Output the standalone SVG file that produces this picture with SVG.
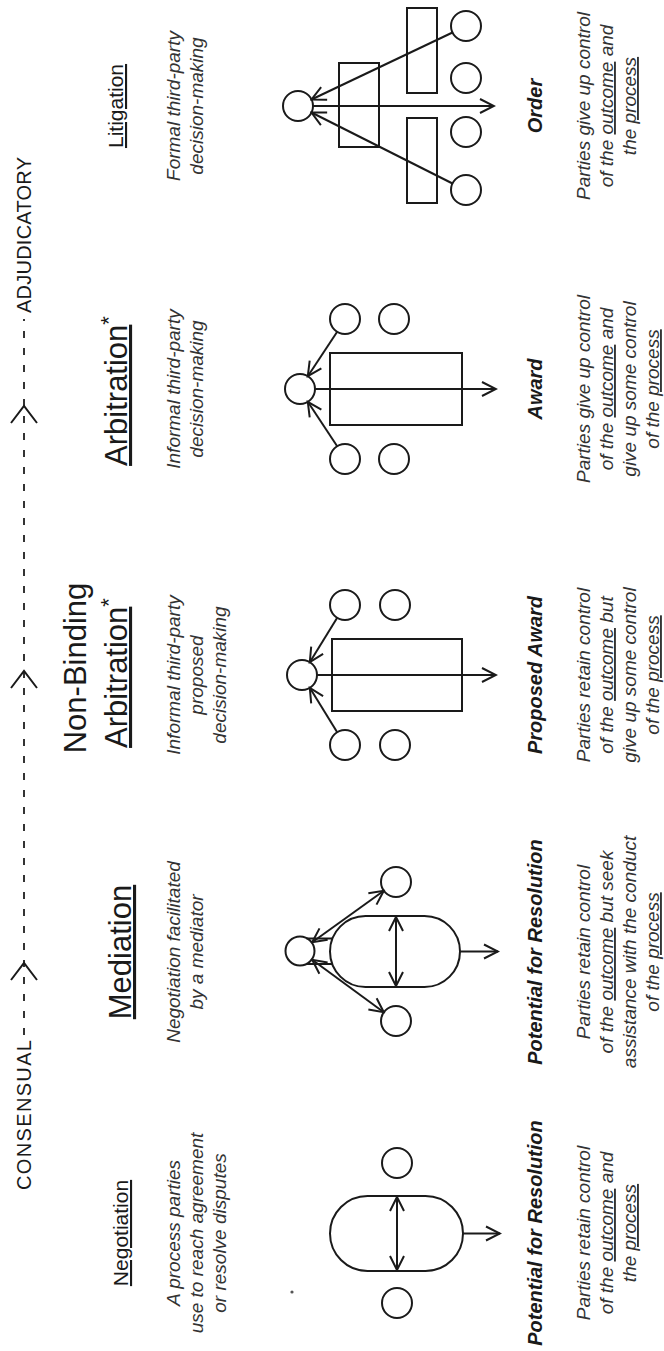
<svg xmlns="http://www.w3.org/2000/svg" width="664" height="1351" viewBox="0 0 664 1351">
  <style>
    text { font-family: "Liberation Sans", Arial, Helvetica, sans-serif; fill: #1a1a1a; text-anchor: middle; }
    .axis { font-size: 20px; }
    .title-s { font-size: 21px; }
    .title-l { font-size: 31px; }
    .desc { font-size: 19px; font-style: italic; fill: #333; }
    .label { font-size: 20px; font-style: italic; font-weight: bold; }
    .body { font-size: 19px; font-style: italic; fill: #333; }
    .u { text-decoration: underline; }
    .shape { fill: none; stroke: #1a1a1a; stroke-width: 2; }
    .conn { fill: none; stroke: #1a1a1a; stroke-width: 2; }
    .arrow { marker-end: url(#head); }
    .arrow2 { marker-start: url(#head); marker-end: url(#head); }
    .dash { fill: none; stroke: #333; stroke-width: 2; stroke-dasharray: 7 10; }
  </style>
  <defs>
    <marker id="head" viewBox="-16 -9 18 18" refX="0" refY="0" markerWidth="18" markerHeight="18" markerUnits="userSpaceOnUse" orient="auto-start-reverse">
      <path d="M-14,-7 L0,0 L-14,7" fill="none" stroke="#1a1a1a" stroke-width="2"/>
    </marker>
  </defs>
  <rect width="664" height="1351" fill="#ffffff"/>

  <!-- landscape page turned a quarter turn: x runs bottom to top, y runs left to right -->
  <g transform="translate(0,1351) rotate(-90)">

    <!-- consensual to adjudicatory scale -->
    <g id="scale">
      <text class="axis" x="161" y="31" style="text-anchor:start" textLength="150" lengthAdjust="spacing">CONSENSUAL</text>
      <text class="axis" x="1194" y="31" style="text-anchor:end" textLength="156" lengthAdjust="spacing">ADJUDICATORY</text>
    </g>

    <g id="negotiation">
      <text class="title-s" x="118" y="128"><tspan class="u">Negotiation</tspan></text>
      <text class="desc" x="118" y="180">A process parties</text>
      <text class="desc" x="118" y="203">use to reach agreement</text>
      <text class="desc" x="118" y="226">or resolve disputes</text>
      <rect class="shape" x="80" y="330" width="75" height="133" rx="37.5" ry="37.5"/>
      <circle class="shape" cx="48" cy="397" r="15"/>
      <circle class="shape" cx="188" cy="397" r="15"/>
      <circle cx="59" cy="292" r="1.6" fill="#555"/>
      <text class="label" x="118" y="542">Potential for Resolution</text>
      <text class="body" x="118" y="590">Parties retain control</text>
      <text class="body" x="118" y="613">of the <tspan class="u">outcome</tspan> and</text>
      <text class="body" x="118" y="636">the <tspan class="u">process</tspan></text>
    </g>

    <g id="mediation">
      <text class="title-l" x="399" y="131"><tspan class="u">Mediation</tspan></text>
      <text class="desc" x="399" y="180">Negotiation facilitated</text>
      <text class="desc" x="399" y="203">by a mediator</text>
      <rect class="shape" x="364" y="330" width="71" height="130" rx="35.5" ry="35.5"/>
      <circle class="shape" cx="400" cy="300" r="14.5"/>
      <circle class="shape" cx="469" cy="396" r="15"/>
      <circle class="shape" cx="330" cy="396" r="15"/>
      <text class="label" x="399" y="542">Potential for Resolution</text>
      <text class="body" x="399" y="590">Parties retain control</text>
      <text class="body" x="399" y="613">of the <tspan class="u">outcome</tspan> but seek</text>
      <text class="body" x="399" y="636">assistance with the conduct</text>
      <text class="body" x="399" y="659">of the <tspan class="u">process</tspan></text>
    </g>

    <g id="non-binding-arbitration">
      <text class="title-l" x="683" y="86">Non-Binding</text>
      <text class="title-l" x="678" y="127"><tspan class="u">Arbitration</tspan><tspan dy="-11" font-size="22">*</tspan></text>
      <text class="desc" x="676" y="180">Informal third-party</text>
      <text class="desc" x="676" y="203">proposed</text>
      <text class="desc" x="676" y="226">decision-making</text>
      <circle class="shape" cx="676" cy="302" r="15"/>
      <rect class="shape" x="640" y="332" width="72" height="130"/>
      <circle class="shape" cx="606" cy="345" r="15"/>
      <circle class="shape" cx="606" cy="395" r="15"/>
      <circle class="shape" cx="746" cy="345" r="15"/>
      <circle class="shape" cx="746" cy="395" r="15"/>
      <text class="label" x="676" y="542">Proposed Award</text>
      <text class="body" x="676" y="590">Parties retain control</text>
      <text class="body" x="676" y="613">of the <tspan class="u">outcome</tspan> but</text>
      <text class="body" x="676" y="636">give up some control</text>
      <text class="body" x="676" y="659">of the <tspan class="u">process</tspan></text>
    </g>

    <g id="arbitration">
      <text class="title-l" x="960" y="127"><tspan class="u">Arbitration</tspan><tspan dy="-11" font-size="22">*</tspan></text>
      <text class="desc" x="962" y="180">Informal third-party</text>
      <text class="desc" x="962" y="203">decision-making</text>
      <circle class="shape" cx="962" cy="300" r="15"/>
      <rect class="shape" x="926" y="330" width="72" height="132"/>
      <circle class="shape" cx="892" cy="345" r="15"/>
      <circle class="shape" cx="892" cy="394" r="15"/>
      <circle class="shape" cx="1032" cy="345" r="15"/>
      <circle class="shape" cx="1032" cy="394" r="15"/>
      <text class="label" x="962" y="542">Award</text>
      <text class="body" x="962" y="590">Parties give up control</text>
      <text class="body" x="962" y="613">of the <tspan class="u">outcome</tspan> and</text>
      <text class="body" x="962" y="636">give up some control</text>
      <text class="body" x="962" y="659">of the <tspan class="u">process</tspan></text>
    </g>

    <g id="litigation">
      <text class="title-s" x="1245" y="123"><tspan class="u">Litigation</tspan></text>
      <text class="desc" x="1245" y="180">Formal third-party</text>
      <text class="desc" x="1245" y="203">decision-making</text>
      <circle class="shape" cx="1245" cy="298" r="15"/>
      <rect class="shape" x="1204" y="339" width="84" height="40"/>
      <rect class="shape" x="1148" y="407" width="85" height="30"/>
      <rect class="shape" x="1258" y="407" width="85" height="30"/>
      <circle class="shape" cx="1161" cy="466" r="15"/>
      <circle class="shape" cx="1219" cy="466" r="15"/>
      <circle class="shape" cx="1273" cy="466" r="15"/>
      <circle class="shape" cx="1325" cy="466" r="15"/>
      <text class="label" x="1245" y="542">Order</text>
      <text class="body" x="1245" y="590">Parties give up control</text>
      <text class="body" x="1245" y="613">of the <tspan class="u">outcome</tspan> and</text>
      <text class="body" x="1245" y="636">the <tspan class="u">process</tspan></text>
    </g>

    <g id="connectors">
      <!-- dashed scale line with chevrons -->
      <path class="dash" d="M316,24 H1032"/>
      <path class="conn" d="M371,11 L388,24 L371,37 M663,11 L680,24 L663,37 M928,11 L945,24 L928,37"/>

      <!-- negotiation -->
      <line class="conn arrow2" x1="81" y1="397" x2="154" y2="397"/>
      <line class="conn arrow" x1="117.5" y1="463" x2="117.5" y2="500"/>

      <!-- mediation -->
      <line class="conn arrow2" x1="365" y1="396" x2="434" y2="396"/>
      <line class="conn" x1="387" y1="306.5" x2="387" y2="332.3"/>
      <line class="conn" x1="412.5" y1="306.5" x2="412.5" y2="332.3"/>
      <line class="conn arrow2" x1="408.8" y1="312.2" x2="460.2" y2="383.8"/>
      <line class="conn arrow2" x1="391.2" y1="312.2" x2="338.8" y2="383.8"/>
      <line class="conn arrow" x1="399.5" y1="460" x2="399.5" y2="498"/>

      <!-- non-binding arbitration -->
      <line class="conn arrow" x1="676" y1="317" x2="676" y2="496"/>
      <line class="conn arrow" x1="733.2" y1="337.2" x2="688.8" y2="309.8"/>
      <line class="conn arrow" x1="618.8" y1="337.2" x2="663.2" y2="309.8"/>

      <!-- arbitration -->
      <line class="conn arrow" x1="962" y1="315" x2="962" y2="496"/>
      <line class="conn arrow" x1="1019.2" y1="337.2" x2="974.8" y2="307.8"/>
      <line class="conn arrow" x1="904.8" y1="337.2" x2="949.2" y2="307.8"/>

      <!-- litigation -->
      <line class="conn arrow" x1="1245" y1="313" x2="1245" y2="494"/>
      <line class="conn arrow" x1="1318.5" y1="452.5" x2="1251.5" y2="311.5"/>
      <line class="conn arrow" x1="1167.5" y1="452.5" x2="1238.5" y2="311.5"/>
    </g>
  </g>
</svg>
